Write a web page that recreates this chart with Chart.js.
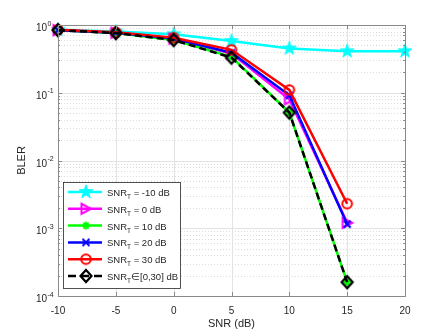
<!DOCTYPE html>
<html>
<head>
<meta charset="utf-8">
<script src="https://cdn.jsdelivr.net/npm/chart.js@4.4.0/dist/chart.umd.min.js"></script>
<style>
  html, body { margin: 0; padding: 0; background: #fff; }
</style>
</head>
<body>
<canvas id="bler-canvas" width="447" height="335"></canvas>
<script>
/* BLER vs SNR */
const snr = [-10, -5, 0, 5, 10, 15, 20];
const bler_m10 = [0.85, 0.80, 0.73, 0.58, 0.45, 0.41, 0.41];
const bler_0 = [0.84, 0.77, 0.63, 0.38, 0.08, 0.0012];
const bler_10 = [0.84, 0.76, 0.60, 0.34, 0.051, 0.00016];
const bler_20 = [0.84, 0.77, 0.63, 0.39, 0.092, 0.00115];
const bler_30 = [0.85, 0.78, 0.65, 0.43, 0.11, 0.0023];
const bler_range = [0.84, 0.76, 0.60, 0.33, 0.051, 0.00016];
const xTicks = [-10, -5, 0, 5, 10, 15, 20];
const yDecades = [1, 0.1, 0.01, 0.001, 0.0001];
const yExponents = ['0', '-1', '-2', '-3', '-4'];
const legendNames = [' = -10 dB', ' = 0 dB', ' = 10 dB', ' = 20 dB', ' = 30 dB', '\u2208[0,30] dB'];

const FONT = '"Liberation Sans", Arial, Helvetica, sans-serif';
const TXT = '#262626';

// marker images, drawn once and used as pointStyle + in the legend
function makeMarker(kind, color){
  const s = 20;
  const c = document.createElement('canvas');
  c.width = s; c.height = s;
  const g = c.getContext('2d');
  g.translate(s/2, s/2);
  g.strokeStyle = color;
  g.fillStyle = color;
  g.lineWidth = 2;
  g.beginPath();
  if(kind == 'star'){
    for(let i = 0; i < 10; i++){
      const r = i % 2 ? 2.8 : 7.2;
      const a = -Math.PI/2 + i*Math.PI/5;
      g.lineTo(r*Math.cos(a), r*Math.sin(a));
    }
    g.closePath();
    g.fill();
    g.lineWidth = 1;
    g.stroke();
  } else if(kind == 'tri'){
    g.moveTo(5, 0); g.lineTo(-4.5, -5); g.lineTo(-4.5, 5); g.closePath();
    g.stroke();
  } else if(kind == 'ast'){
    g.lineWidth = 2.2;
    for(let i = 0; i < 4; i++){
      const a = i*Math.PI/4;
      g.moveTo(-3.8*Math.cos(a), -3.8*Math.sin(a));
      g.lineTo(3.8*Math.cos(a), 3.8*Math.sin(a));
    }
    g.stroke();
    g.beginPath(); g.arc(0, 0, 2.5, 0, 2*Math.PI); g.fill();
  } else if(kind == 'x'){
    g.moveTo(-3.5, -3.5); g.lineTo(3.5, 3.5);
    g.moveTo(3.5, -3.5); g.lineTo(-3.5, 3.5);
    g.stroke();
  } else if(kind == 'circ'){
    g.arc(0, 0, 4.8, 0, 2*Math.PI);
    g.stroke();
  } else if(kind == 'dia'){
    g.moveTo(0, -6); g.lineTo(5.5, 0); g.lineTo(0, 6); g.lineTo(-5.5, 0); g.closePath();
    g.lineWidth = 2.2;
    g.stroke();
  }
  return c;
}

const series = [
  {values: bler_m10, color: '#00ffff', marker: 'star', dash: []},
  {values: bler_0, color: '#ff00ff', marker: 'tri', dash: []},
  {values: bler_10, color: '#00ff00', marker: 'ast', dash: []},
  {values: bler_20, color: '#0000ff', marker: 'x', dash: []},
  {values: bler_30, color: '#ff0000', marker: 'circ', dash: []},
  {values: bler_range, color: '#000000', marker: 'dia', dash: [7, 4]}
];
series.forEach(s => s.img = makeMarker(s.marker, s.color));

const datasets = series.map((s, i) => ({
  label: legendNames[i],
  data: s.values.map((v, k) => ({x: snr[k], y: v})),
  borderColor: s.color,
  backgroundColor: s.color,
  borderWidth: 2.5,
  borderDash: s.dash,
  pointStyle: s.img,
  pointRadius: 6,
  tension: 0,
  clip: false,
  order: series.length - i // later series on top, like matlab
}));

const matlabAxes = {
  id: 'matlabAxes',
  beforeDatasetsDraw(chart){
    const {ctx, chartArea: a, scales: {x, y}} = chart;
    ctx.save();
    ctx.lineWidth = 1;
    // minor y grid, dotted
    ctx.strokeStyle = '#dcdcdc';
    ctx.setLineDash([1, 2]);
    yDecades.slice(1).forEach(d => {
      for(let m = 2; m <= 9; m++){
        const py = Math.round(y.getPixelForValue(d*m)) + 0.5;
        ctx.beginPath(); ctx.moveTo(a.left, py); ctx.lineTo(a.right, py); ctx.stroke();
      }
    });
    // major grid
    ctx.setLineDash([]);
    ctx.strokeStyle = '#e3e3e3';
    yDecades.forEach(d => {
      const py = Math.round(y.getPixelForValue(d)) + 0.5;
      ctx.beginPath(); ctx.moveTo(a.left, py); ctx.lineTo(a.right, py); ctx.stroke();
    });
    xTicks.forEach(t => {
      const px = Math.round(x.getPixelForValue(t)) + 0.5;
      ctx.beginPath(); ctx.moveTo(px, a.top); ctx.lineTo(px, a.bottom); ctx.stroke();
    });
    ctx.restore();
  },
  afterDatasetsDraw(chart){
    const {ctx, chartArea: a, scales: {x, y}} = chart;
    ctx.save();
    // box + inward ticks
    ctx.strokeStyle = '#8a8a8a';
    ctx.lineWidth = 1;
    ctx.strokeRect(a.left + 0.5, a.top + 0.5, a.right - a.left, a.bottom - a.top);
    ctx.beginPath();
    xTicks.forEach(t => {
      const px = Math.round(x.getPixelForValue(t)) + 0.5;
      ctx.moveTo(px, a.bottom); ctx.lineTo(px, a.bottom - 4);
      ctx.moveTo(px, a.top); ctx.lineTo(px, a.top + 4);
    });
    yDecades.forEach((d, i) => {
      const py = Math.round(y.getPixelForValue(d)) + 0.5;
      ctx.moveTo(a.left, py); ctx.lineTo(a.left + 4, py);
      ctx.moveTo(a.right, py); ctx.lineTo(a.right - 4, py);
      if(i == 0) return;
      for(let m = 2; m <= 9; m++){
        const pm = Math.round(y.getPixelForValue(d*m)) + 0.5;
        ctx.moveTo(a.left, pm); ctx.lineTo(a.left + 2, pm);
        ctx.moveTo(a.right, pm); ctx.lineTo(a.right - 2, pm);
      }
    });
    ctx.stroke();

    // y tick labels 10^n
    ctx.fillStyle = TXT;
    yDecades.forEach((d, i) => {
      const py = y.getPixelForValue(d);
      ctx.font = '10px ' + FONT;
      ctx.textAlign = 'right';
      ctx.textBaseline = 'alphabetic';
      ctx.fillText('10', a.left - 11, py + 6);
      ctx.font = '7px ' + FONT;
      ctx.textAlign = 'left';
      ctx.fillText(yExponents[i], a.left - 10.5, py + 0.5);
    });

    // axis titles
    ctx.font = '11px ' + FONT;
    ctx.textAlign = 'center';
    ctx.textBaseline = 'middle';
    ctx.fillText('SNR (dB)', (a.left + a.right)/2, 324);
    ctx.save();
    ctx.translate(22, (a.top + a.bottom)/2);
    ctx.rotate(-Math.PI/2);
    ctx.fillText('BLER', 0, 0);
    ctx.restore();

    // legend
    const lx = 63, ly = 182, lw = 117, lh = 106;
    ctx.fillStyle = '#ffffff';
    ctx.fillRect(lx, ly, lw, lh);
    ctx.strokeStyle = '#262626';
    ctx.lineWidth = 0.8;
    ctx.strokeRect(lx + 0.5, ly + 0.5, lw, lh);
    series.forEach((s, i) => {
      const ry = 192 + i*16.8;
      ctx.strokeStyle = s.color;
      ctx.lineWidth = 2.5;
      ctx.setLineDash(s.dash.length ? [8, 5] : []);
      ctx.beginPath(); ctx.moveTo(68, ry); ctx.lineTo(102, ry); ctx.stroke();
      ctx.setLineDash([]);
      ctx.drawImage(s.img, 86 - s.img.width/2, ry - s.img.height/2);
      ctx.fillStyle = TXT;
      ctx.textAlign = 'left';
      ctx.textBaseline = 'alphabetic';
      ctx.font = '9.5px ' + FONT;
      let tx = 107;
      ctx.fillText('SNR', tx, ry + 4);
      tx += ctx.measureText('SNR').width;
      ctx.font = '6.5px ' + FONT;
      ctx.fillText('T', tx, ry + 7);
      tx += ctx.measureText('T').width;
      ctx.font = '9.5px ' + FONT;
      ctx.fillText(legendNames[i], tx, ry + 4);
    });
    ctx.restore();
  }
};

const ctx = document.getElementById('bler-canvas');
const myChart = new Chart(ctx, {
  type: 'line',
  data: { datasets: datasets },
  plugins: [matlabAxes],
  options: {
    responsive: false,
    devicePixelRatio: 1,
    animation: false,
    events: [],
    layout: {
      padding: { left: 0, right: 42, top: 25, bottom: 0 }
    },
    plugins: {
      legend: { display: false },
      tooltip: { enabled: false }
    },
    scales: {
      x: {
        type: 'linear',
        min: -10,
        max: 20,
        grid: { display: false, drawTicks: false },
        border: { display: false },
        ticks: {
          stepSize: 5,
          autoSkip: false,
          maxRotation: 0,
          padding: 9,
          color: TXT,
          font: { family: FONT, size: 10 }
        },
        afterFit: s => { s.height = 39; }
      },
      y: {
        type: 'logarithmic',
        min: 0.0001,
        max: 1,
        grid: { display: false, drawTicks: false },
        border: { display: false },
        ticks: { display: false },
        afterFit: s => { s.width = 58; }
      }
    }
  }
});
</script>
</body>
</html>
